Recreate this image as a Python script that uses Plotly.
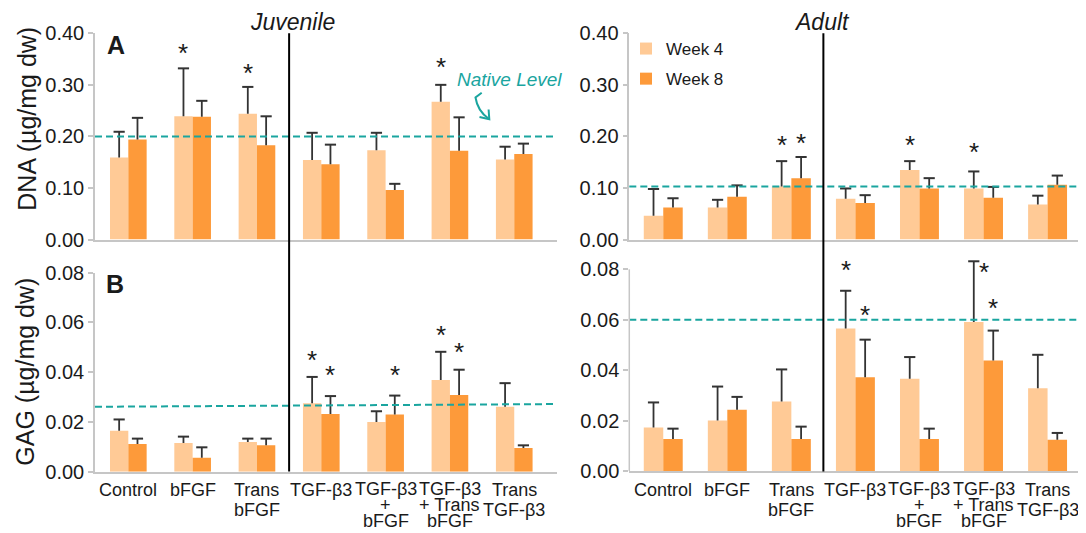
import plotly.graph_objects as go

# ---------------- data ----------------
categories = ["Control", "bFGF", "Trans<br>bFGF", "TGF-β3",
              "TGF-β3<br>+<br>bFGF", "TGF-β3<br>+ Trans<br>bFGF", "Trans<br>TGF-β3"]
series_names = ["Week 4", "Week 8"]

dna_juv_w4 = [0.159, 0.239, 0.244, 0.154, 0.173, 0.267, 0.155]
dna_juv_w4_err = [0.050, 0.093, 0.052, 0.053, 0.034, 0.033, 0.025]
dna_juv_w8 = [0.194, 0.238, 0.183, 0.146, 0.096, 0.172, 0.166]
dna_juv_w8_err = [0.042, 0.031, 0.056, 0.038, 0.012, 0.065, 0.020]

dna_adu_w4 = [0.046, 0.062, 0.103, 0.079, 0.135, 0.099, 0.068]
dna_adu_w4_err = [0.052, 0.015, 0.049, 0.020, 0.017, 0.033, 0.017]
dna_adu_w8 = [0.062, 0.083, 0.119, 0.071, 0.099, 0.081, 0.106]
dna_adu_w8_err = [0.018, 0.022, 0.041, 0.015, 0.020, 0.021, 0.018]

gag_juv_w4 = [0.0165, 0.0115, 0.0119, 0.0275, 0.0200, 0.0369, 0.0261]
gag_juv_w4_err = [0.0045, 0.0026, 0.0014, 0.0106, 0.0043, 0.0113, 0.0095]
gag_juv_w8 = [0.0111, 0.0056, 0.0106, 0.0232, 0.0230, 0.0308, 0.0095]
gag_juv_w8_err = [0.0022, 0.0042, 0.0027, 0.0072, 0.0076, 0.0102, 0.0011]

gag_adu_w4 = [0.0173, 0.0200, 0.0276, 0.0565, 0.0366, 0.0591, 0.0328]
gag_adu_w4_err = [0.0099, 0.0135, 0.0127, 0.0150, 0.0086, 0.0241, 0.0133]
gag_adu_w8 = [0.0127, 0.0243, 0.0127, 0.0372, 0.0127, 0.0438, 0.0124]
gag_adu_w8_err = [0.0041, 0.0051, 0.0049, 0.0149, 0.0041, 0.0119, 0.0027]

# native tissue levels (start, end of the dashed line)
native_dna_juv = [0.200, 0.200]
native_dna_adu = [0.103, 0.103]
native_gag_juv = [0.0261, 0.0272]
native_gag_adu = [0.060, 0.060]

# significance stars: category index, week (-1 = week 4, 1 = week 8, 0 = between), height
stars_dna_juv = [(1, -1, 0.374), (2, -1, 0.335), (5, -1, 0.346)]
stars_dna_adu = [(2, -1, 0.194), (2, 1, 0.199), (4, -1, 0.195), (5, -1, 0.181)]
stars_gag_juv = [(3, -1, 0.0473), (3, 1, 0.0411), (4, 1, 0.0411), (5, -1, 0.0572), (5, 1, 0.0505)]
stars_gag_adu = [(3, -1, 0.0821), (3, 1, 0.0641), (5, 0, 0.0813), (5, 1, 0.0672)]

dna_ticks = [0.0, 0.1, 0.2, 0.3, 0.4]
gag_ticks = [0.0, 0.02, 0.04, 0.06, 0.08]

# ---------------- style ----------------
PAGE_OFF = 8                      # default body margin of the html page
W, H = 1086 - PAGE_OFF, 533 - PAGE_OFF
FONT = "Liberation Sans, Arial, sans-serif"
TEXT = "#1a1a1a"
AXC = "#c6c6c6"
C4 = "#FFCA96"
C8 = "#FD9A3A"
TEAL = "#1AA59F"
ERRC = "#333333"


def fx(p):
    return (p - PAGE_OFF) / W


def fy(p):
    return 1 - (p - PAGE_OFF) / H


panels = [
    dict(xa="x", ya="y", w4=dna_juv_w4, e4=dna_juv_w4_err, w8=dna_juv_w8, e8=dna_juv_w8_err,
         bw=0.285, native=native_dna_juv, stars=stars_dna_juv, labels=False),
    dict(xa="x2", ya="y2", w4=dna_adu_w4, e4=dna_adu_w4_err, w8=dna_adu_w8, e8=dna_adu_w8_err,
         bw=0.304, native=native_dna_adu, stars=stars_dna_adu, labels=False),
    dict(xa="x3", ya="y3", w4=gag_juv_w4, e4=gag_juv_w4_err, w8=gag_juv_w8, e8=gag_juv_w8_err,
         bw=0.285, native=native_gag_juv, stars=stars_gag_juv, labels=True),
    dict(xa="x4", ya="y4", w4=gag_adu_w4, e4=gag_adu_w4_err, w8=gag_adu_w8, e8=gag_adu_w8_err,
         bw=0.304, native=native_gag_adu, stars=stars_gag_adu, labels=True),
]

# vertical placement (page px) of category label lines, by number of lines
LABEL_LINES = {1: [490], 2: [490, 510], 3: [488.5, 504.5, 520.5]}

fig = go.Figure()
xs = list(range(len(categories)))
shapes = []
annotations = []

for k, p in enumerate(panels):
    bw = p["bw"]
    for j, (vals, errs, col, off) in enumerate([(p["w4"], p["e4"], C4, -bw), (p["w8"], p["e8"], C8, 0.0)]):
        fig.add_trace(go.Bar(
            x=xs, y=vals, width=bw, offset=off, name=series_names[j],
            legendgroup=series_names[j], showlegend=(k == 1),
            marker=dict(color=col, line=dict(width=0)),
            error_y=dict(type="data", symmetric=False, array=errs, arrayminus=[0] * len(errs),
                         width=0, thickness=1.8, color=ERRC),
            xaxis=p["xa"], yaxis=p["ya"], hoverinfo="y",
        ))
        # caps at the top of the error bars
        fig.add_trace(go.Scatter(
            x=[i + off + bw / 2 for i in xs], y=[v + e for v, e in zip(vals, errs)],
            mode="markers", marker=dict(symbol="line-ew", size=8, line=dict(width=2, color=ERRC)),
            showlegend=False, hoverinfo="skip", cliponaxis=False,
            xaxis=p["xa"], yaxis=p["ya"],
        ))
    # native level dashed line
    shapes.append(dict(type="line", xref=p["xa"] + " domain", yref=p["ya"], x0=0, x1=1,
                       y0=p["native"][0], y1=p["native"][1],
                       line=dict(color=TEAL, width=2, dash="7px,4px"), layer="above"))
    # stars
    for (ci, wk, sy) in p["stars"]:
        annotations.append(dict(x=ci + wk * bw / 2, y=sy, xref=p["xa"], yref=p["ya"], text="*",
                                showarrow=False, yshift=-6,
                                font=dict(size=26, color=TEXT, family=FONT)))
    # category labels (lines placed individually to get the tight line spacing)
    if p["labels"]:
        for i, cat in enumerate(categories):
            lines = cat.split("<br>")
            for ln, ypix in zip(lines, LABEL_LINES[len(lines)]):
                annotations.append(dict(x=i, y=fy(ypix), xref=p["xa"], yref="paper", text=ln,
                                        showarrow=False, xanchor="center", yanchor="middle",
                                        font=dict(size=18, color=TEXT, family=FONT)))

# black separators between the two treatment families
for xa in ["x", "x2"]:
    shapes.append(dict(type="line", xref=xa, yref="paper", x0=2.5, x1=2.5,
                       y0=fy(471.5), y1=fy(33.3), line=dict(color="black", width=2)))

# y axis line of the lower-right panel only up to 0.08
shapes.append(dict(type="line", xref="x4 domain", yref="y4", x0=0, x1=0, y0=0, y1=0.08,
                   line=dict(color=AXC, width=1.5)))

# curved arrow for "Native Level"
pts = [(481.7, 92.7), (475.5, 97.5), (477.5, 111.0), (489.0, 119.0)]
arrow = "M{},{} L{},{} Q{},{} {},{}".format(
    fx(pts[0][0]), fy(pts[0][1]), fx(pts[1][0]), fy(pts[1][1]),
    fx(pts[2][0]), fy(pts[2][1]), fx(pts[3][0]), fy(pts[3][1]))
head = "M{},{} L{},{} L{},{}".format(fx(488.6), fy(109.5), fx(489.3), fy(119.3), fx(479.5), fy(117.0))
shapes.append(dict(type="path", xref="paper", yref="paper", path=arrow,
                   line=dict(color=TEAL, width=2)))
shapes.append(dict(type="path", xref="paper", yref="paper", path=head,
                   line=dict(color=TEAL, width=2)))


def txt(text, x, y, size, **kw):
    d = dict(text=text, x=fx(x), y=fy(y), xref="paper", yref="paper", showarrow=False,
             xanchor="center", yanchor="middle",
             font=dict(size=size, color=kw.pop("color", TEXT), family=FONT))
    d.update(kw)
    return d


annotations += [
    txt("<i>Juvenile</i>", 292.5, 21.7, 23),
    txt("<i>Adult</i>", 822, 21.7, 23),
    txt("<b>A</b>", 115.5, 45.3, 25),
    txt("<b>B</b>", 114.5, 284, 25),
    txt("<i>Native Level</i>", 509, 79, 19, color=TEAL),
    txt("DNA (µg/mg dw)", 26.7, 119, 25, textangle=-90),
    txt("GAG (µg/mg dw)", 25, 371.7, 25, textangle=-90),
]

xdom_left = [fx(95), fx(556.7)]
xdom_right = [fx(629.3), 1.0]
ydom_top = [fy(239.5), fy(33.3)]
ydom_bl = [fy(471.7), fy(272.7)]
ydom_br = [fy(471.0), fy(258.0)]

tickfont = dict(size=20, color=TEXT, family=FONT)


def xaxis(dom, rng, anchor):
    return dict(domain=dom, range=rng, anchor=anchor, showgrid=False, zeroline=False,
                showline=True, linecolor=AXC, linewidth=1.5, ticks="",
                tickvals=xs, ticktext=categories, showticklabels=False,
                automargin=False, fixedrange=True)


def yaxis(dom, rng, anchor, ticks, fmt, line=True):
    return dict(domain=dom, range=rng, anchor=anchor, showgrid=False, zeroline=False,
                showline=line, linecolor=AXC, linewidth=1.5, ticks="outside", ticklen=5,
                tickcolor=AXC, tickwidth=1.5, tickvals=ticks, tickformat=fmt,
                tickfont=tickfont, automargin=False, fixedrange=True)


fig.update_layout(
    width=W, height=H, autosize=False,
    margin=dict(l=0, r=0, t=0, b=0),
    paper_bgcolor="white", plot_bgcolor="white",
    barmode="overlay",
    font=dict(family=FONT, color=TEXT),
    xaxis=xaxis(xdom_left, [-0.518, 6.66], "y"),
    yaxis=yaxis(ydom_top, [0, 0.40], "x", dna_ticks, ".2f"),
    xaxis2=xaxis(xdom_right, [-0.53, 6.6], "y2"),
    yaxis2=yaxis(ydom_top, [0, 0.40], "x2", dna_ticks, ".2f"),
    xaxis3=xaxis(xdom_left, [-0.518, 6.66], "y3"),
    yaxis3=yaxis(ydom_bl, [0, 0.08], "x3", gag_ticks, ".2f"),
    xaxis4=xaxis(xdom_right, [-0.53, 6.6], "y4"),
    yaxis4=yaxis(ydom_br, [0, 0.0845], "x4", gag_ticks, ".2f", line=False),
    legend=dict(x=fx(626), y=fy(31), xanchor="left", yanchor="top",
                font=dict(size=17, color=TEXT, family=FONT), bgcolor="rgba(0,0,0,0)",
                traceorder="grouped", tracegroupgap=5, itemwidth=30),
    shapes=shapes,
    annotations=annotations,
    showlegend=True,
)

fig.write_html("out.html")
